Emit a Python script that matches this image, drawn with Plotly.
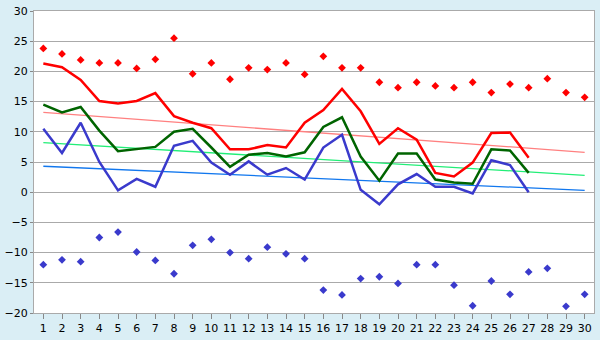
import plotly.graph_objects as go

days = list(range(1, 31))
line_days = list(range(1, 28))

max_points = [23.8, 22.9, 21.9, 21.4, 21.4, 20.5, 22.0, 25.5, 19.6, 21.4,
              18.7, 20.6, 20.3, 21.4, 19.5, 22.5, 20.6, 20.6, 18.2, 17.3,
              18.2, 17.6, 17.3, 18.2, 16.5, 17.9, 17.3, 18.8, 16.5, 15.7]
min_points = [-12.0, -11.2, -11.5, -7.5, -6.6, -9.9, -11.3, -13.5, -8.8, -7.8,
              -10.0, -11.0, -9.1, -10.2, -11.0, -16.2, -17.0, -14.3, -14.0, -15.1,
              -12.0, -12.0, -15.4, -18.8, -14.7, -16.9, -13.2, -12.6, -18.9, -16.9]

max_line = [21.3, 20.7, 18.6, 15.1, 14.7, 15.1, 16.4, 12.6, 11.5, 10.6,
            7.1, 7.1, 7.8, 7.4, 11.5, 13.6, 17.1, 13.4, 8.0, 10.6,
            8.7, 3.2, 2.6, 4.9, 9.8, 9.9, 5.7]
mean_line = [14.5, 13.2, 14.1, 10.2, 6.8, 7.1, 7.5, 10.0, 10.5, 7.4,
             4.2, 6.2, 6.5, 5.9, 6.6, 10.8, 12.4, 5.9, 1.9, 6.4,
             6.4, 2.1, 1.6, 1.4, 7.1, 6.9, 3.2]
min_line = [10.5, 6.5, 11.5, 5.0, 0.3, 2.2, 0.9, 7.7, 8.5, 4.9,
            2.9, 5.1, 2.9, 4.0, 2.1, 7.4, 9.5, 0.4, -2.0, 1.3,
            3.0, 0.9, 0.9, -0.2, 5.3, 4.5, 0.0]

trend_days = [1, 30]
trend_max = [13.2, 6.6]
trend_mean = [8.2, 2.8]
trend_min = [4.3, 0.3]

fig = go.Figure()

fig.add_trace(go.Scatter(x=trend_days, y=trend_max, mode="lines",
                         line=dict(color="#ff8080", width=1.3)))
fig.add_trace(go.Scatter(x=trend_days, y=trend_mean, mode="lines",
                         line=dict(color="#22ee77", width=1.3)))
fig.add_trace(go.Scatter(x=trend_days, y=trend_min, mode="lines",
                         line=dict(color="#1177ee", width=1.3)))

fig.add_trace(go.Scatter(x=line_days, y=min_line, mode="lines",
                         line=dict(color="#3a3acc", width=2.5)))
fig.add_trace(go.Scatter(x=line_days, y=mean_line, mode="lines",
                         line=dict(color="#006400", width=2.5)))
fig.add_trace(go.Scatter(x=line_days, y=max_line, mode="lines",
                         line=dict(color="#ff0000", width=2.5)))

fig.add_trace(go.Scatter(x=days, y=max_points, mode="markers",
                         marker=dict(symbol="diamond", color="#ff0000", size=6,
                                     line=dict(width=0))))
fig.add_trace(go.Scatter(x=days, y=min_points, mode="markers",
                         marker=dict(symbol="diamond", color="#3a3acc", size=6,
                                     line=dict(width=0))))

fig.update_layout(
    width=600, height=340,
    margin=dict(l=26, r=5, t=5, b=20),
    paper_bgcolor="#daeef5",
    plot_bgcolor="#ffffff",
    showlegend=False,
    font=dict(family="DejaVu Sans", size=11, color="#000000"),
)
fig.update_xaxes(
    range=[0.5, 30.5], tickmode="array", tickvals=days,
    ticktext=[str(d) for d in days],
    showgrid=False, zeroline=False,
    showline=True, linecolor="#aaaaaa", linewidth=1, mirror=True,
    ticks="outside", ticklen=5, tickcolor="#888888",
    ticklabeloverflow="allow",
)
fig.update_yaxes(
    range=[-20, 30], tickmode="linear", tick0=-20, dtick=5,
    showgrid=True, gridcolor="#aaaaaa", gridwidth=1,
    zeroline=False,
    showline=True, linecolor="#aaaaaa", linewidth=1, mirror=True,
    ticks="outside", ticklen=3, tickcolor="#888888",
    ticklabeloverflow="allow",
)

fig.write_html("out.html")
